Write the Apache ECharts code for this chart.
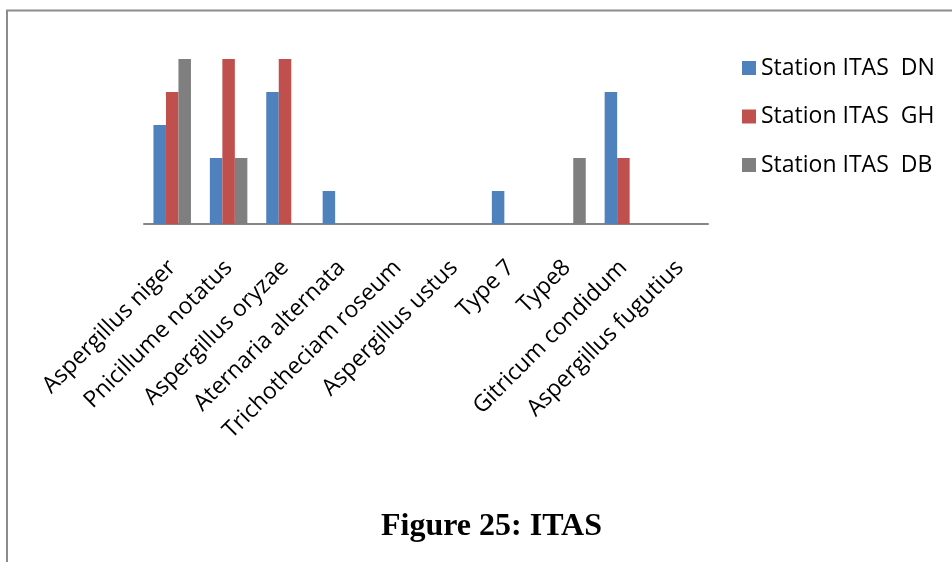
<!DOCTYPE html>
<html>
<head>
<meta charset="utf-8">
<script src="https://cdn.jsdelivr.net/npm/echarts@6/dist/echarts.min.js"></script>
<style>
html,body{margin:0;padding:0;background:#fff;}
#chart{width:952px;height:562px;}
</style>
</head>
<body>
<div id="chart"></div>
<script>
const categories = ["Aspergillus niger","Pnicillume notatus","Aspergillus oryzae","Aternaria alternata","Trichotheciam roseum","Aspergillus ustus","Type 7","Type8","Gitricum condidum","Aspergillus fugutius"];
const seriesNames = ["Station ITAS  DN","Station ITAS  GH","Station ITAS  DB"];
const valuesDN = [3,2,4,1,0,0,1,0,4,0];
const valuesGH = [4,5,5,0,0,0,0,0,2,0];
const valuesDB = [5,2,0,0,0,0,0,2,0,0];
const colors = ["#4F81BD","#C0504D","#7F7F7F"];
const figureTitle = "Figure 25: ITAS";

const chart = echarts.init(document.getElementById('chart'), null, {renderer:'canvas'});
const font = "'Open Sans', sans-serif";
const dataSets = [valuesDN, valuesGH, valuesDB];
chart.setOption({
  animation:false,
  backgroundColor:'#fff',
  grid:{left:144, right:244, top:59, height:165, containLabel:false},
  legend:{
    orient:'vertical', left:737, top:51,
    itemWidth:14, itemHeight:14, itemGap:24.5,
    icon:'rect',
    textStyle:{fontFamily:font, fontSize:23, color:'#000', lineHeight:24},
    data:seriesNames
  },
  xAxis:{
    type:'category', data:categories,
    axisLine:{lineStyle:{color:'#868686', width:2}},
    axisTick:{show:false},
    axisLabel:{rotate:45, interval:0, margin:40, fontFamily:font, fontSize:23, color:'#000'}
  },
  yAxis:{type:'value', min:0, max:5, show:false, splitLine:{show:false}},
  series: seriesNames.map((n,i)=>({
    name:n, type:'bar', data:dataSets[i], barWidth:12.5, barGap:'0%',
    itemStyle:{color:colors[i]}
  })),
  graphic:[
    {type:'line', shape:{x1:6, y1:10.5, x2:952, y2:10.5}, style:{stroke:'#8c8c8c', lineWidth:2}},
    {type:'line', shape:{x1:7, y1:10, x2:7, y2:562}, style:{stroke:'#8c8c8c', lineWidth:2}},
    {type:'text', x:491.5, y:527, style:{text:figureTitle, font:"bold 32px 'Liberation Serif', serif", fill:'#000', textAlign:'center', textVerticalAlign:'middle'}}
  ]
});
</script>
</body>
</html>
